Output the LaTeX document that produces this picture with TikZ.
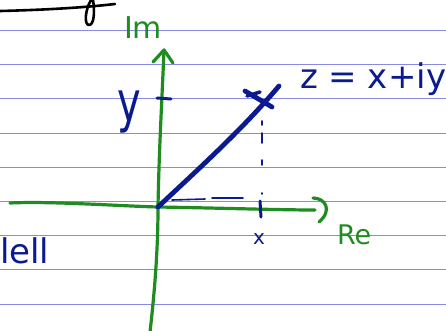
\documentclass[tikz,border=0pt]{standalone}
\usepackage{fontspec}
\setmainfont{DejaVu Sans}
\definecolor{rulecol}{HTML}{8A8AE2}
\definecolor{ink}{HTML}{0B1A8E}
\definecolor{grn}{HTML}{1F8C22}
\begin{document}
\begin{tikzpicture}[x=1pt,y=-1pt,line cap=round,line join=round,
  ruled/.style={rulecol,line width=0.9pt},
  axis/.style={grn,line width=3.2pt},
  inkthin/.style={ink,line width=1.6pt},
  inkmid/.style={ink,line width=3pt},
  hand/.style={inner sep=0pt,outer sep=0pt}]
\useasboundingbox (0,0) rectangle (446,330);
\fill[white] (0,0) rectangle (446,330);
% ruled paper
\foreach \yy in {30,64.3,98.6,133,167,201,235,269.5,304}
  \draw[ruled] (0,\yy) -- (446,\yy);
% black fragment at the top
\draw[black,line width=2.6pt] (0,11) .. controls (40,10) and (80,8) .. (115,4);
\draw[black,line width=2.6pt] (91,0) .. controls (85,10) and (84,25) .. (89,25) .. controls (94,25) and (95,12) .. (93,0);
% coordinates
\coordinate (O) at (158,207);
\coordinate (P) at (279,86);
\coordinate (imtop) at (164,50);
\coordinate (retip) at (315,210);
% imaginary axis
\draw[axis] (150,332) .. controls (156,280) and (158,240) .. (O) .. controls (159,150) and (162,100) .. (imtop);
\draw[axis] (153,62) -- (imtop) -- (173,63);
% real axis
\draw[axis] (10,203) .. controls (50,201) and (120,206) .. (O) .. controls (220,208) and (280,210) .. (retip);
\draw[axis] (313,198) .. controls (325,198) and (333,210) .. (319,222);
% labels of axes
\node[hand,text=grn,font=\fontsize{30}{30}\selectfont,anchor=base west] (im) at (124,38) {Im};
\node[hand,text=grn,font=\fontsize{27}{27}\selectfont,anchor=base west] (re) at (337,244) {Re};
% vector z
\draw[ink,line width=4.8pt] (O) .. controls (195,172) and (240,132) .. (P);
\draw[ink,line width=4.8pt] (245,91) -- (272,107);
\draw[ink,line width=3.5pt] (247,96) -- (260,92);
% projections
\draw[inkthin] (172,200) -- (205,199);
\draw[inkthin] (212,198) -- (243,198);
\draw[inkthin] (262,121) -- (262,125);
\draw[inkthin] (262,133) -- (262,143);
\draw[inkthin] (262,160) -- (262,165);
\draw[inkthin] (262,193) -- (262,194);
\draw[inkmid] (260,201) -- (261,217);
\draw[inkmid] (157,98) -- (171,99);
% ink labels
\node[hand,text=ink,font=\fontsize{40}{40}\selectfont,anchor=center] (ylab) at (129,112) {\scalebox{1}[1.4]{y}};
\node[hand,text=ink,font=\fontsize{20}{20}\selectfont,anchor=center] (xlab) at (259,239) {x};
\node[hand,text=ink,font=\fontsize{34}{34}\selectfont,anchor=base west] (zeq) at (300,88) {z = x+iy};
\node[hand,text=ink,font=\fontsize{34}{34}\selectfont,anchor=base west] (word) at (0,263) {lell};
\end{tikzpicture}
\end{document}
